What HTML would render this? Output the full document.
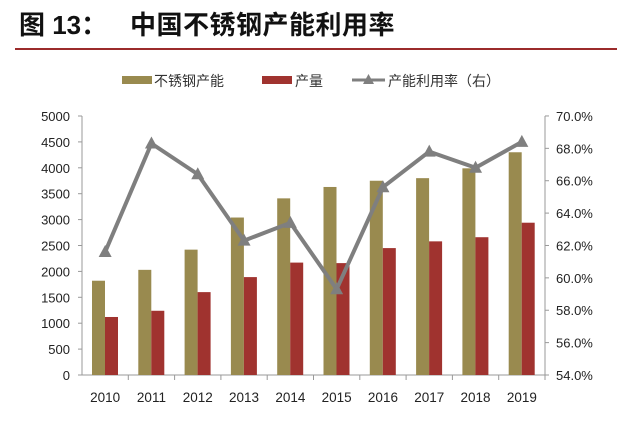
<!DOCTYPE html>
<html><head><meta charset="utf-8"><style>
body{margin:0;background:#fff;}
svg text{font-family:"Liberation Sans","Noto Sans CJK SC",sans-serif;}
</style></head><body>
<svg width="640" height="424" xmlns="http://www.w3.org/2000/svg">
<g font-size="26" font-weight="bold" fill="#111">
<text x="19" y="34" font-family="'Noto Sans CJK SC',sans-serif">图 13：</text>
<text x="130" y="34" letter-spacing="0.5" font-family="'Noto Sans CJK SC',sans-serif">中国不锈钢产能利用率</text>
</g>
<line x1="15" y1="49" x2="617" y2="49" stroke="#9b2b2b" stroke-width="2"/>
<g font-size="14" fill="#333">
<rect x="122" y="76" width="30" height="8" fill="#998A4F"/><text x="154" y="86">不锈钢产能</text>
<rect x="262" y="76" width="30" height="8" fill="#A0332F"/><text x="295" y="86">产量</text>
<line x1="352" y1="80" x2="385" y2="80" stroke="#7F7F7F" stroke-width="3"/><polygon points="368.5,74 374,84 363,84" fill="#7F7F7F"/><text x="388" y="86">产能利用率（右）</text>
</g>
<g stroke="#999" stroke-width="1">
<line x1="82" y1="116" x2="82" y2="375"/><line x1="545" y1="116" x2="545" y2="375"/>
<line x1="82" y1="375" x2="545" y2="375"/>
</g>
<g id="bars"></g>
<g font-size="13" fill="#222" text-anchor="end" id="ly"></g>
<g font-size="13" fill="#222" id="ry"></g>
<g font-size="13.5" fill="#222" text-anchor="middle" id="xl"></g>
<polyline id="ln" fill="none" stroke="#7F7F7F" stroke-width="4" stroke-linejoin="round"/>
<g id="mk" fill="#7F7F7F"></g>
</svg>
<script>
var ns="http://www.w3.org/2000/svg";
function el(p,t,a,txt){var e=document.createElementNS(ns,t);for(var k in a)e.setAttribute(k,a[k]);if(txt!==undefined)e.textContent=txt;document.getElementById(p).appendChild(e);return e;}
var g=[1820,2030,2420,3040,3410,3630,3750,3800,3990,4300],r=[1120,1240,1600,1890,2170,2160,2450,2580,2660,2940],u=[61.6,68.3,66.4,62.3,63.4,59.3,65.6,67.8,66.8,68.4];
function y(v){return 375-v*0.0518}function yr(p){return 375-(p-54)*16.19}
var w=46.3,pts=[];
for(var i=0;i<10;i++){var x0=82+i*w;
el("bars","rect",{x:x0+10,y:y(g[i]),width:13,height:375-y(g[i]),fill:"#998A4F"});
el("bars","rect",{x:x0+23,y:y(r[i]),width:13,height:375-y(r[i]),fill:"#A0332F"});
el("bars","line",{x1:x0+w,y1:375,x2:x0+w,y2:380,stroke:"#999"});
el("xl","text",{x:x0+w/2,y:402},String(2010+i));
var cx=x0+w/2,cy=yr(u[i]);pts.push(cx+","+cy);
el("mk","polygon",{points:cx+","+(cy-7)+" "+(cx+6.5)+","+(cy+5)+" "+(cx-6.5)+","+(cy+5)});}
document.getElementById("ln").setAttribute("points",pts.join(" "));
for(var k=0;k<=10;k++){var v=k*500;el("ly","text",{x:70,y:y(v)+5},String(v));el("bars","line",{x1:78,y1:y(v),x2:82,y2:y(v),stroke:"#999"});}
for(var p=54;p<=70;p+=2){el("ry","text",{x:556,y:yr(p)+5},p.toFixed(1)+"%");el("bars","line",{x1:545,y1:yr(p),x2:549,y2:yr(p),stroke:"#999"});}
</script>
</body></html>
